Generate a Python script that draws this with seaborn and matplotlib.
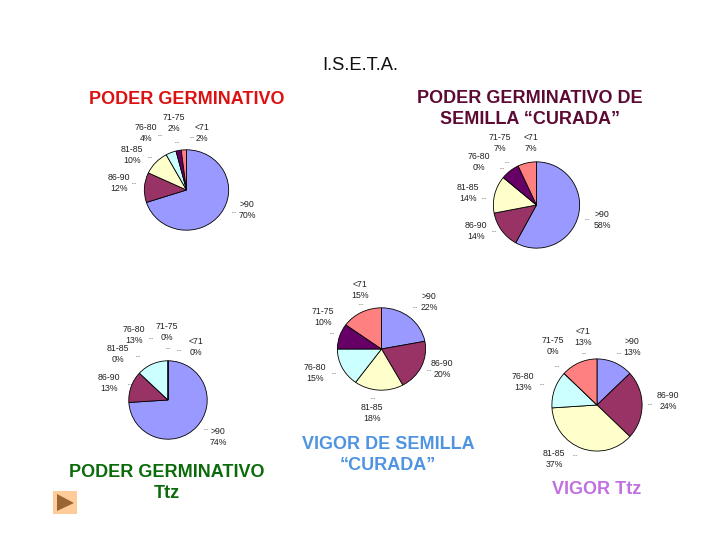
import matplotlib
matplotlib.use("Agg")
import matplotlib.pyplot as plt
import seaborn as sns

sns.set_style("white")
plt.rcParams["font.family"] = ["Liberation Sans", "DejaVu Sans"]

categorias = [">90", "86-90", "81-85", "76-80", "71-75", "<71"]
colores = ["#9999FF", "#993366", "#FFFFCC", "#CCFFFF", "#660066", "#FF8080"]
paleta = sns.color_palette(colores)

poder = [70, 12, 10, 4, 2, 2]
poder_curada = [58, 14, 14, 0, 7, 7]
poder_ttz = [74, 13, 0, 13, 0, 0]
vigor_curada = [22, 20, 18, 15, 10, 15]
vigor_ttz = [13, 24, 37, 13, 0, 13]

W, H = 720, 540

fig = plt.figure(figsize=(7.2, 5.4), dpi=100)
fondo = fig.add_axes([0, 0, 1, 1])
fondo.set_xlim(0, W)
fondo.set_ylim(H, 0)
fondo.axis("off")


def torta(valores, cx, cy, rx, ry, pos_etiquetas, puntos):
    ax = fig.add_axes([(cx - rx) / W, 1 - (cy + ry) / H, 2 * rx / W, 2 * ry / H])
    ax.pie(valores, colors=paleta, startangle=90, counterclock=False, radius=1,
           wedgeprops={"edgecolor": "black", "linewidth": 0.6})
    ax.set_aspect("auto")
    ax.set_xlim(-1.02, 1.02)
    ax.set_ylim(-1.02, 1.02)
    for cat, val, (x, y), (px, py) in zip(categorias, valores, pos_etiquetas, puntos):
        fondo.text(x, y, f"{cat}\n{val}%", fontsize=6.3, ha="center", va="center",
                   linespacing=1.35, color="#222222")
        fondo.plot([px - 1.5, px + 1.5], [py, py], ":", color="#444444", lw=0.6)


torta(poder, 186.5, 190, 43, 41,
      [(247, 210), (119, 183), (132, 155), (146, 133), (174, 123), (202, 133)],
      [(233, 212), (133, 183), (149, 157), (159, 135), (176, 142), (191, 137)])
torta(poder_curada, 536.5, 205, 44, 44,
      [(602, 220), (476, 231), (468, 193), (479, 162), (500, 143), (531, 143)],
      [(586, 219), (493, 231), (483, 198), (501, 168), (506, 162), (531, 162)])
torta(poder_ttz, 168, 400, 40, 40,
      [(218, 437), (109, 383), (118, 354), (134, 335), (167, 332), (196, 347)],
      [(205, 429), (129, 384), (137, 356), (150, 338), (167, 348), (178, 350)])
torta(vigor_curada, 381.5, 349, 45, 42,
      [(429, 302), (442, 369), (372, 413), (315, 373), (323, 317), (360, 290)],
      [(414, 307), (428, 370), (372, 398), (333, 373), (331, 333), (360, 304)])
torta(vigor_ttz, 597, 405, 46, 47,
      [(632, 347), (668, 401), (554, 459), (523, 382), (553, 346), (583, 337)],
      [(618, 353), (649, 404), (574, 455), (541, 384), (556, 366), (583, 353)])

fondo.text(360, 65, "I.S.E.T.A.", fontsize=13.2, ha="center", va="center", color="#111111")
fondo.text(187, 99, "PODER GERMINATIVO", fontsize=13, fontweight="bold",
           ha="center", va="center", color="#DD1111")
fondo.text(530, 109, "PODER GERMINATIVO DE\nSEMILLA “CURADA”", fontsize=13, fontweight="bold",
           ha="center", va="center", color="#5C0A33", linespacing=1.3)
fondo.text(167, 483, "PODER GERMINATIVO\nTtz", fontsize=13, fontweight="bold",
           ha="center", va="center", color="#0B6B0B", linespacing=1.3)
fondo.text(388, 455, "VIGOR DE SEMILLA\n“CURADA”", fontsize=13, fontweight="bold",
           ha="center", va="center", color="#4F94E0", linespacing=1.3)
fondo.text(597, 489, "VIGOR Ttz", fontsize=13, fontweight="bold",
           ha="center", va="center", color="#C070E0")

# boton de la esquina
fondo.fill([53, 77, 77, 53], [491, 491, 514, 514], color="#FFCC99", lw=0)
fondo.fill([57, 74, 57], [494, 503, 511], color="#996633", lw=0)

fig.savefig("out.png", dpi=100)
